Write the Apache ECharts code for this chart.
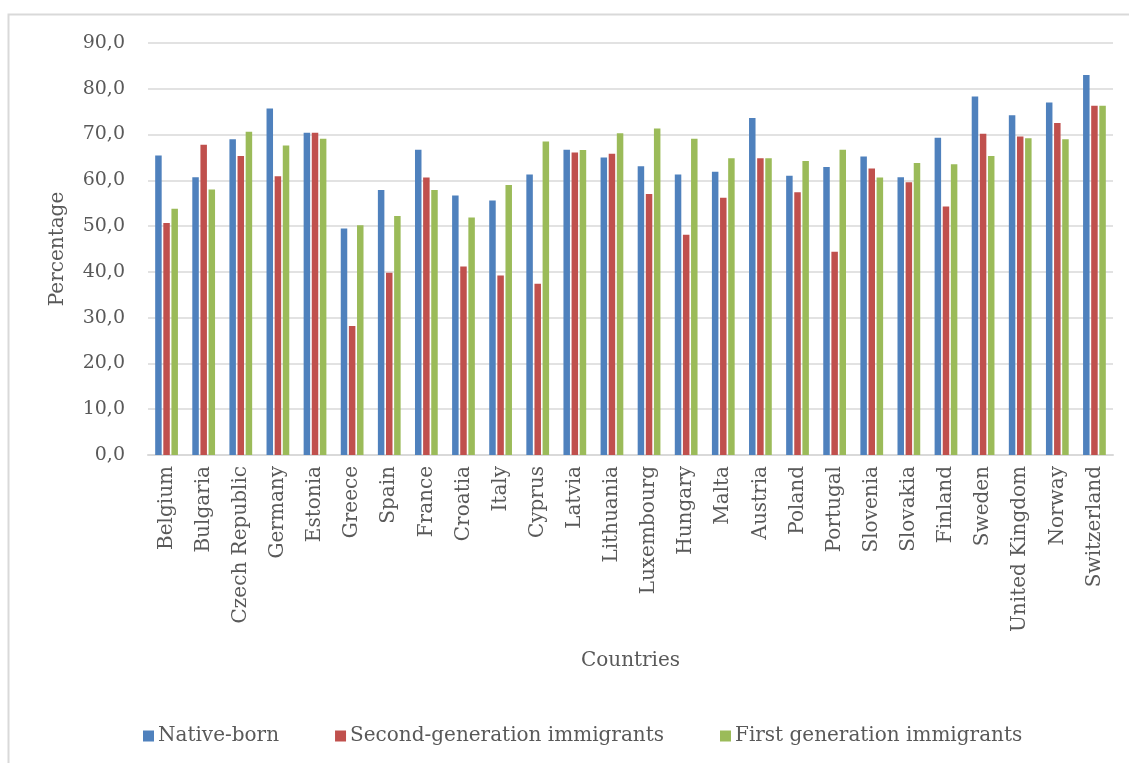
<!DOCTYPE html>
<html>
<head>
<meta charset="utf-8">
<style>
  html, body { margin: 0; padding: 0; background: #fff; }
  #chart { width: 1129px; height: 763px; }
</style>
<script src="https://cdn.jsdelivr.net/npm/echarts@6/dist/echarts.min.js"></script>
</head>
<body>
<div id="chart"></div>
<script>
// Employment rate by migrant background, per country (%)
const countries = ['Belgium', 'Bulgaria', 'Czech Republic', 'Germany', 'Estonia', 'Greece', 'Spain',
  'France', 'Croatia', 'Italy', 'Cyprus', 'Latvia', 'Lithuania', 'Luxembourg', 'Hungary', 'Malta',
  'Austria', 'Poland', 'Portugal', 'Slovenia', 'Slovakia', 'Finland', 'Sweden', 'United Kingdom',
  'Norway', 'Switzerland'];

const nativeBorn = [65.4, 60.7, 69.0, 75.7, 70.4, 49.5, 57.9, 66.7, 56.7, 55.6, 61.3, 66.7, 65.0,
  63.1, 61.3, 61.9, 73.6, 61.0, 62.9, 65.2, 60.7, 69.3, 78.3, 74.2, 77.0, 83.0];
const secondGeneration = [50.7, 67.8, 65.3, 60.9, 70.4, 28.2, 39.8, 60.6, 41.2, 39.2, 37.4, 66.1,
  65.8, 57.0, 48.1, 56.2, 64.8, 57.4, 44.4, 62.6, 59.6, 54.3, 70.2, 69.6, 72.5, 76.3];
const firstGeneration = [53.8, 58.0, 70.6, 67.6, 69.1, 50.2, 52.2, 57.9, 51.9, 59.0, 68.5, 66.6,
  70.3, 71.3, 69.1, 64.8, 64.8, 64.2, 66.7, 60.6, 63.8, 63.5, 65.3, 69.2, 69.0, 76.3];

const seriesNames = ['Native-born', 'Second-generation immigrants', 'First generation immigrants'];
const seriesColors = ['#4F81BD', '#C0504D', '#9BBB59'];
const seriesValues = [nativeBorn, secondGeneration, firstGeneration];

const textColor = '#595959';
const serif = '"DejaVu Serif", "Liberation Serif", serif';

const chart = echarts.init(document.getElementById('chart'), null, { renderer: 'canvas' });

chart.setOption({
  backgroundColor: '#ffffff',
  animation: false,
  graphic: [{
    type: 'rect',
    shape: { x: 8.5, y: 14.5, width: 1200, height: 900 },
    style: { fill: 'none', stroke: '#D9D9D9', lineWidth: 2 },
    silent: true
  }],
  grid: { left: 148, right: 16, top: 43, bottom: 308 },
  legend: {
    left: 138,
    top: 721,
    itemWidth: 11,
    itemHeight: 11,
    itemGap: 56,
    icon: 'rect',
    data: seriesNames,
    textStyle: { color: textColor, fontFamily: serif, fontSize: 20, padding: [0, 0, 0, -1] }
  },
  xAxis: {
    type: 'category',
    data: countries,
    name: 'Countries',
    nameLocation: 'middle',
    nameGap: 196,
    nameTextStyle: { color: textColor, fontFamily: serif, fontSize: 20 },
    axisLine: { lineStyle: { color: '#D9D9D9', width: 2 } },
    axisTick: { show: false },
    axisLabel: {
      rotate: 90,
      margin: 11,
      color: textColor,
      fontFamily: serif,
      fontSize: 20,
      interval: 0
    }
  },
  yAxis: {
    type: 'value',
    min: 0,
    max: 90,
    interval: 10,
    name: 'Percentage',
    nameLocation: 'middle',
    nameRotate: 90,
    nameGap: 80,
    nameTextStyle: { color: textColor, fontFamily: serif, fontSize: 20 },
    axisLine: { show: false },
    axisTick: { show: false },
    splitLine: { lineStyle: { color: '#D9D9D9', width: 1.5 } },
    axisLabel: {
      margin: 23,
      color: textColor,
      fontFamily: serif,
      fontSize: 19,
      formatter: v => v.toFixed(1).replace('.', ',')
    }
  },
  series: seriesNames.map((name, i) => ({
    name,
    type: 'bar',
    data: seriesValues[i],
    barWidth: 6.5,
    barGap: '25%',
    itemStyle: { color: seriesColors[i] }
  }))
});
</script>
</body>
</html>
